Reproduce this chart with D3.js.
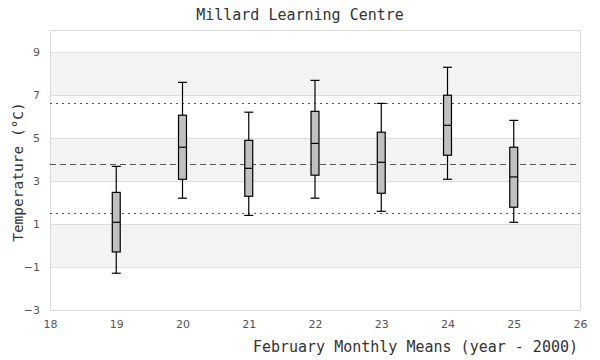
<!DOCTYPE html>
<html><head><meta charset="utf-8">
<script src="https://cdn.jsdelivr.net/npm/d3@7"></script>
<style>body{margin:0;background:#fff}</style>
</head><body><svg id="c" width="600" height="360"></svg>
<script>
const years   = [19, 20, 21, 22, 23, 24, 25];
const whiskLo = [-1.29, 2.20, 1.40, 2.20, 1.59, 3.08, 1.08];
const q1      = [-0.30, 3.08, 2.29, 3.27, 2.43, 4.20, 1.78];
const median  = [1.08, 4.57, 3.59, 4.75, 3.87, 5.59, 3.19];
const q3      = [2.47, 6.06, 4.89, 6.24, 5.27, 6.99, 4.57];
const whiskHi = [3.68, 7.59, 6.20, 7.68, 6.61, 8.29, 5.82];
const meanLine = 3.79;
const upperLine = 6.63;
const lowerLine = 1.52;
const xTicks = [18, 19, 20, 21, 22, 23, 24, 25, 26];
const yTicks = [-3, -1, 1, 3, 5, 7, 9];
const bands = [[-1, 1], [3, 5], [7, 9]];

const svg = d3.select("#c");
const L = 50, R = 580, T = 30.5, B = 310;
const x = d3.scaleLinear().domain([18, 26]).range([L, R]);
const y = d3.scaleLinear().domain([-3, 10]).range([B, T]);
const mono = "'DejaVu Sans Mono','Liberation Mono',monospace";

// bands
svg.append("g").selectAll("rect").data(bands).join("rect")
  .attr("x", L).attr("width", R - L)
  .attr("y", d => y(d[1])).attr("height", d => y(d[0]) - y(d[1]))
  .attr("fill", "#f3f3f3");

// grid
svg.append("g").selectAll("line").data(yTicks).join("line")
  .attr("x1", L).attr("x2", R).attr("y1", d => y(d)).attr("y2", d => y(d))
  .attr("stroke", "#dedede").attr("stroke-width", 1)
  .attr("shape-rendering", "crispEdges");

// border
svg.append("rect").attr("x", L + 0.5).attr("y", T).attr("width", R - L).attr("height", B - T)
  .attr("fill", "none").attr("stroke", "#dcdcdc").attr("shape-rendering", "crispEdges");

// axes
const yAx = svg.append("g").attr("transform", `translate(${L},0)`)
  .call(d3.axisLeft(y).tickValues(yTicks).tickSize(0).tickPadding(10));
const xAx = svg.append("g").attr("transform", `translate(0,${B})`)
  .call(d3.axisBottom(x).tickValues(xTicks).tickSize(0).tickPadding(10));
[yAx, xAx].forEach(a => {
  a.select(".domain").remove();
  a.selectAll("text").attr("fill", "#555").attr("font-size", 11)
    .attr("font-family", "'DejaVu Sans',sans-serif");
});

// reference lines
function hline(v, dash) {
  svg.append("line").attr("x1", L).attr("x2", R)
    .attr("y1", Math.round(y(v)) + 0.5).attr("y2", Math.round(y(v)) + 0.5)
    .attr("stroke", "#555").attr("stroke-width", 1).attr("stroke-dasharray", dash);
}
hline(upperLine, "2,4");
hline(lowerLine, "2,4");
hline(meanLine, "6,4");

// boxes
const hw = 0.06, cw = 0.068;
const g = svg.append("g").selectAll("g").data(years.map((yr, i) => ({yr, i}))).join("g");
g.append("line").attr("x1", d => x(d.yr)).attr("x2", d => x(d.yr))
  .attr("y1", d => y(whiskHi[d.i])).attr("y2", d => y(whiskLo[d.i]))
  .attr("stroke", "#000").attr("stroke-width", 1.2);
g.append("line").attr("x1", d => x(d.yr - cw)).attr("x2", d => x(d.yr + cw))
  .attr("y1", d => y(whiskHi[d.i])).attr("y2", d => y(whiskHi[d.i]))
  .attr("stroke", "#000").attr("stroke-width", 1.2);
g.append("line").attr("x1", d => x(d.yr - cw)).attr("x2", d => x(d.yr + cw))
  .attr("y1", d => y(whiskLo[d.i])).attr("y2", d => y(whiskLo[d.i]))
  .attr("stroke", "#000").attr("stroke-width", 1.2);
g.append("rect").attr("x", d => x(d.yr - hw)).attr("width", x(18 + 2 * hw) - x(18))
  .attr("y", d => y(q3[d.i])).attr("height", d => y(q1[d.i]) - y(q3[d.i]))
  .attr("fill", "#c0c0c0").attr("stroke", "#000").attr("stroke-width", 1.2);
g.append("line").attr("x1", d => x(d.yr - hw)).attr("x2", d => x(d.yr + hw))
  .attr("y1", d => y(median[d.i])).attr("y2", d => y(median[d.i]))
  .attr("stroke", "#000").attr("stroke-width", 1.2);

// titles
svg.append("text").attr("x", 300).attr("y", 20).attr("text-anchor", "middle")
  .attr("font-family", mono).attr("font-size", 15).attr("fill", "#333")
  .text("Millard Learning Centre");
svg.append("text").attr("x", 578).attr("y", 352).attr("text-anchor", "end")
  .attr("font-family", mono).attr("font-size", 15).attr("fill", "#333")
  .text("February Monthly Means (year - 2000)");
svg.append("text").attr("transform", "translate(23,172) rotate(-90)").attr("text-anchor", "middle")
  .attr("font-family", mono).attr("font-size", 14.5).attr("fill", "#333")
  .text("Temperature (°C)");
</script></body></html>
